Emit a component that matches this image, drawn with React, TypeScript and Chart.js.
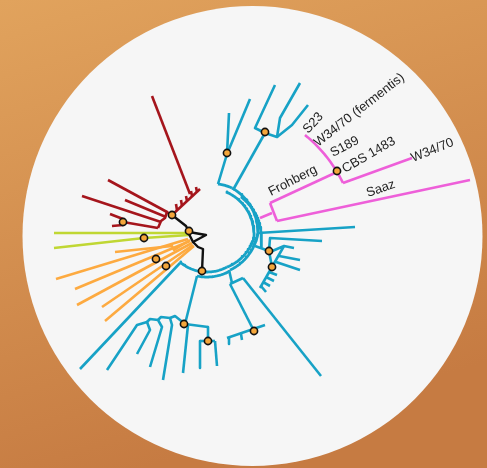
import React, { useEffect, useRef } from "react";
import { Chart, registerables } from "chart.js";

Chart.register(...registerables);

type Pt = [number, number];

// Layout space of the radial tree (x to the right, y downward).
const LAYOUT_W = 487;
const LAYOUT_H = 468;
const ROOT: Pt = [205, 230];
const DISC_CENTER: Pt = [252.5, 236];
const DISC_RADIUS = 230;

// Blue clade: straight branches
const blueBranches: Pt[][] = [
  [[218, 184], [227, 154], [229, 113]],
  [[227, 154], [250, 99]],
  [[233, 190], [265, 133]],
  [[265, 133], [255, 128], [275, 85]],
  [[265, 133], [277, 137], [280, 118], [300, 83]],
  [[277, 137], [292, 125], [308, 105]],
  [[258, 233], [355, 227]],
  [[255, 246], [269, 251]],
  [[269, 251], [270, 238], [322, 241]],
  [[269, 251], [272, 267]],
  [[270, 252], [284, 246], [272, 267]],
  [[284, 246], [294, 248]],
  [[279, 256], [300, 260]],
  [[276, 262], [300, 270]],
  [[272, 267], [260, 288]],
  [[269, 272], [277, 275]],
  [[266, 277], [274, 281]],
  [[263, 282], [270, 286]],
  [[261, 286], [266, 292]],
  [[229, 270], [232, 283]],
  [[230, 284], [243, 278]],
  [[230, 284], [254, 331]],
  [[243, 278], [321, 376]],
  [[227, 338], [265, 325]],
  [[229, 338], [229, 344]],
  [[241, 334], [242, 340]],
  [[180, 263], [80, 369]],
  [[197, 276], [185, 324]],
  [[107, 370], [137, 325], [147, 322], [150, 330], [137, 354]],
  [[147, 322], [150, 319], [158, 320], [162, 327], [150, 367]],
  [[158, 320], [161, 317], [170, 318], [172, 325], [163, 380]],
  [[170, 318], [175, 316], [185, 324]],
  [[185, 324], [208, 327]],
  [[188, 325], [183, 373]],
  [[208, 327], [208, 341]],
  [[200, 341], [215, 341]],
  [[200, 341], [200, 368]],
  [[215, 341], [217, 366]],
];

// Blue clade: arcs around the root (start, end)
const blueArcs: [Pt, Pt][] = [
  [[218, 184], [232, 188]],
  [[232, 188], [258, 233]],
  [[226, 192], [254, 238]],
  [[241, 197], [261, 247]],
  [[258, 233], [230, 270]],
  [[254, 238], [227, 267]],
  [[180, 262], [227, 267]],
  [[197, 276], [230, 271]],
];

const pinkBranches: Pt[][] = [
  [[260, 218], [272, 213]],
  [[270, 203], [277, 221]],
  [[270, 203], [337, 172]],
  [[277, 221], [470, 180]],
  [[343, 183], [412, 158]],
];
const pinkArcs: [Pt, Pt][] = [[[305, 135], [343, 183]]];

const redBranches: Pt[][] = [
  [[152, 96], [190, 194]],
  [[172, 215], [200, 189]],
  [[177, 210], [176, 204]],
  [[182, 206], [181, 200]],
  [[187, 201], [186, 196]],
  [[192, 196], [191, 191]],
  [[197, 192], [196, 187]],
  [[108, 180], [167, 212]],
  [[125, 200], [166, 217]],
  [[82, 196], [161, 222]],
  [[110, 214], [123, 219]],
  [[112, 226], [123, 225]],
  [[123, 222], [158, 228]],
  [[158, 228], [161, 221], [165, 218], [167, 212], [172, 215]],
];

const blackBranches: Pt[][] = [
  [[172, 215], [186, 226], [189, 232]],
  [[189, 232], [206, 235], [193, 242], [189, 234]],
  [[193, 242], [198, 247], [203, 249], [202, 271]],
];

const greenBranches: Pt[][] = [
  [[54, 233], [189, 233]],
  [[54, 248], [144, 238], [189, 235]],
];

const orangeBranches: Pt[][] = [
  [[115, 252], [172, 246], [174, 250], [190, 240]],
  [[56, 279], [188, 239]],
  [[75, 289], [190, 241]],
  [[77, 305], [192, 243]],
  [[102, 307], [193, 245]],
  [[105, 321], [194, 246]],
];

// Supported internal nodes
const supportNodes: Pt[] = [
  [227, 153], [265, 132], [337, 171], [172, 215], [123, 222],
  [189, 231], [144, 238], [156, 259], [166, 266], [202, 271],
  [269, 251], [272, 267], [184, 324], [208, 341], [254, 331],
];

const leafLabels = ["S23", "W34/70 (fermentis)", "S189", "CBS 1483", "W34/70", "Frohberg", "Saaz"];
const labelAnchors: Pt[] = [
  [308, 134], [318, 147], [333, 157], [345, 173], [413, 162], [271, 196], [368, 197],
];
const labelAngles = [-47, -38, -28, -30, -22, -27, -19];

const COLORS = {
  blue: "#17A2C6",
  pink: "#EE5FD9",
  red: "#A5151C",
  green: "#C0D733",
  orange: "#FDAA40",
  black: "#111111",
};

// Tessellate an arc about the root between two branch points
function arcPoints(a: Pt, b: Pt): Pt[] {
  const [cx, cy] = ROOT;
  const a0 = Math.atan2(a[1] - cy, a[0] - cx);
  const r0 = Math.hypot(a[0] - cx, a[1] - cy);
  const a1 = Math.atan2(b[1] - cy, b[0] - cx);
  const r1 = Math.hypot(b[0] - cx, b[1] - cy);
  let d = a1 - a0;
  while (d > Math.PI) d -= 2 * Math.PI;
  while (d < -Math.PI) d += 2 * Math.PI;
  const n = Math.max(2, Math.ceil(Math.abs(d) * 40));
  const out: Pt[] = [];
  for (let i = 0; i <= n; i++) {
    const t = i / n;
    const ang = a0 + d * t;
    const r = r0 + (r1 - r0) * t;
    out.push([cx + r * Math.cos(ang), cy + r * Math.sin(ang)]);
  }
  return out;
}

function lineSet(path: Pt[], color: string, width: number, order: number) {
  return {
    data: path.map(([x, y]) => ({ x, y })),
    showLine: true,
    borderColor: color,
    backgroundColor: color,
    borderWidth: width,
    borderCapStyle: "butt" as const,
    borderJoinStyle: "round" as const,
    pointRadius: 0,
    pointHoverRadius: 0,
    fill: false,
    order,
    clip: false as const,
  };
}

const discPlugin = {
  id: "disc",
  beforeDraw(chart: any) {
    const { ctx, width, height } = chart;
    const xs = chart.scales.x;
    const ys = chart.scales.y;
    ctx.save();
    const g = ctx.createLinearGradient(0, 0, width * 0.3, height);
    g.addColorStop(0, "#E1A35D");
    g.addColorStop(1, "#C67B42");
    ctx.fillStyle = g;
    ctx.fillRect(0, 0, width, height);
    const cx = xs.getPixelForValue(DISC_CENTER[0]);
    const cy = ys.getPixelForValue(DISC_CENTER[1]);
    const r = xs.getPixelForValue(DISC_CENTER[0] + DISC_RADIUS) - cx;
    ctx.beginPath();
    ctx.arc(cx, cy, r, 0, Math.PI * 2);
    ctx.fillStyle = "#F6F6F6";
    ctx.fill();
    ctx.restore();
  },
};

const labelPlugin = {
  id: "leafLabels",
  afterDatasetsDraw(chart: any) {
    const { ctx } = chart;
    const xs = chart.scales.x;
    const ys = chart.scales.y;
    ctx.save();
    ctx.fillStyle = "#222222";
    ctx.font = '13px "Liberation Sans", Arial, sans-serif';
    ctx.textBaseline = "alphabetic";
    ctx.textAlign = "left";
    leafLabels.forEach((txt, i) => {
      const px = xs.getPixelForValue(labelAnchors[i][0]);
      const py = ys.getPixelForValue(labelAnchors[i][1]);
      ctx.save();
      ctx.translate(px, py);
      ctx.rotate((labelAngles[i] * Math.PI) / 180);
      ctx.fillText(txt, 0, 0);
      ctx.restore();
    });
    ctx.restore();
  },
};

export default function App() {
  const ref = useRef<HTMLCanvasElement>(null);

  useEffect(() => {
    const canvas = ref.current;
    if (!canvas) return;
    const datasets: any[] = [];
    blueBranches.forEach((p) => datasets.push(lineSet(p, COLORS.blue, 2.6, 3)));
    blueArcs.forEach(([a, b]) => datasets.push(lineSet(arcPoints(a, b), COLORS.blue, 2.8, 3)));
    pinkBranches.forEach((p) => datasets.push(lineSet(p, COLORS.pink, 2.6, 3)));
    pinkArcs.forEach(([a, b]) => datasets.push(lineSet(arcPoints(a, b), COLORS.pink, 2.6, 3)));
    redBranches.forEach((p) => datasets.push(lineSet(p, COLORS.red, 2.6, 3)));
    greenBranches.forEach((p) => datasets.push(lineSet(p, COLORS.green, 2.6, 3)));
    orangeBranches.forEach((p) => datasets.push(lineSet(p, COLORS.orange, 2.6, 3)));
    blackBranches.forEach((p) => datasets.push(lineSet(p, COLORS.black, 2.4, 1)));
    datasets.push({
      data: supportNodes.map(([x, y]) => ({ x, y })),
      showLine: false,
      pointRadius: 3.6,
      pointHoverRadius: 3.6,
      pointBackgroundColor: "#F4A63B",
      pointBorderColor: "#111111",
      pointBorderWidth: 1.6,
      order: 0,
      clip: false,
    });

    const chart = new Chart(canvas, {
      type: "scatter",
      data: { datasets },
      options: {
        responsive: false,
        animation: false,
        devicePixelRatio: 1,
        events: [],
        layout: { padding: 0, autoPadding: false },
        plugins: { legend: { display: false }, tooltip: { enabled: false } },
        scales: {
          x: { type: "linear", display: false, min: 0, max: LAYOUT_W },
          y: { type: "linear", display: false, min: 0, max: LAYOUT_H, reverse: true },
        },
      },
      plugins: [discPlugin, labelPlugin],
    });
    return () => chart.destroy();
  }, []);

  return (
    <div style={{ position: "fixed", left: 0, top: 0, width: LAYOUT_W, height: LAYOUT_H }}>
      <canvas
        ref={ref}
        width={LAYOUT_W}
        height={LAYOUT_H}
        style={{ width: LAYOUT_W, height: LAYOUT_H, display: "block" }}
      />
    </div>
  );
}
